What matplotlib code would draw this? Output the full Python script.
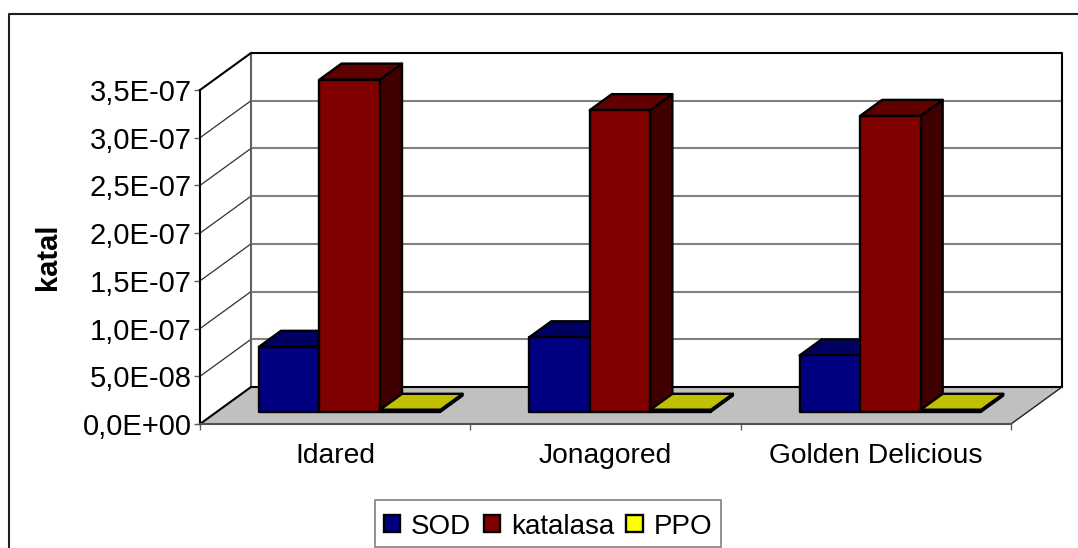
import matplotlib
matplotlib.use('Agg')
import matplotlib.pyplot as plt
from matplotlib.lines import Line2D
from matplotlib.patches import Patch, Polygon, Rectangle

plt.rcParams['font.family'] = ['Liberation Sans', 'DejaVu Sans']

categories = ['Idared', 'Jonagored', 'Golden Delicious']
series_names = ['SOD', 'katalasa', 'PPO']
sod = [6.8e-8, 7.8e-8, 5.9e-8]
katalasa = [3.48e-7, 3.16e-7, 3.10e-7]
ppo = [2e-9, 2e-9, 2e-9]
y_ticks = [0, 0.5e-7, 1e-7, 1.5e-7, 2e-7, 2.5e-7, 3e-7, 3.5e-7]
y_labels = ['0,0E+00', '5,0E-08', '1,0E-07', '1,5E-07', '2,0E-07', '2,5E-07', '3,0E-07', '3,5E-07']

front = ['#000080', '#800000', '#C0C000']
top = ['#000060', '#600000', '#C0C000']
side = ['#000040', '#400000', '#606000']
legend_colors = ['#000080', '#800000', '#FFFF00']

W, H = 1078, 548
fig = plt.figure(figsize=(W / 100, H / 100), dpi=100)
ax = fig.add_axes([200 / W, 1 - 424 / H, 811 / W, 334 / H])
ax.set_xlim(0, 3)
ax.set_ylim(0, 3.5e-7)

# size of the depth direction in data units
px_x = 3 / 811
px_y = 3.5e-7 / 334
dx = 51 * px_x
dy = 37 * px_y


def shift(x, y, d):
    return (x + d * dx, y + d * dy)


# floor and walls
ax.add_patch(Polygon([shift(0, 0, 0), shift(3, 0, 0), shift(3, 0, 1), shift(0, 0, 1)],
                     fc='#C0C0C0', ec='none', clip_on=False, zorder=1))
for v in y_ticks[1:-1]:
    ax.plot([0, dx], [v, v + dy], color='#303030', lw=0.9, clip_on=False, zorder=2)
    ax.plot([dx, 3 + dx], [v + dy, v + dy], color='#808080', lw=1.5, clip_on=False, zorder=2)
ymax = y_ticks[-1]
ax.plot([dx, dx], [dy, ymax + dy], color='#606060', lw=1.5, clip_on=False, zorder=2)
ax.plot([0, dx, 3 + dx, 3 + dx], [ymax, ymax + dy, ymax + dy, dy], color='black', lw=1.5,
        clip_on=False, zorder=2)
ax.plot([0, dx, 3 + dx], [0, dy, dy], color='black', lw=1.5, clip_on=False, zorder=2)
ax.plot([3, 3 + dx], [0, dy], color='#202020', lw=1, clip_on=False, zorder=2)

# bars
bar_w = 60.5 * px_x
gap = 42 * px_x
d0 = 12.3 / 37
d1 = 28.3 / 37
z = 3
for i in range(len(categories)):
    for j, vals in enumerate([sod, katalasa, ppo]):
        v = vals[i]
        x0 = i + gap + j * bar_w
        x1 = x0 + bar_w
        ax.add_patch(Polygon([shift(x1, 0, d0), shift(x1, 0, d1), shift(x1, v, d1), shift(x1, v, d0)],
                             fc=side[j], ec='black', lw=1.7, joinstyle='round', clip_on=False, zorder=z))
        ax.add_patch(Polygon([shift(x0, v, d0), shift(x1, v, d0), shift(x1, v, d1), shift(x0, v, d1)],
                             fc=top[j], ec='black', lw=1.7, joinstyle='round', clip_on=False, zorder=z))
        ax.add_patch(Polygon([shift(x0, 0, d0), shift(x1, 0, d0), shift(x1, v, d0), shift(x0, v, d0)],
                             fc=front[j], ec='black', lw=1.7, joinstyle='round', clip_on=False, zorder=z))
        z += 1

# axes
for s in ['top', 'right']:
    ax.spines[s].set_visible(False)
ax.patch.set_visible(False)
ax.spines['left'].set_linewidth(1.5)
ax.spines['bottom'].set_linewidth(1.5)
ax.spines['bottom'].set_color('#505050')
ax.set_yticks(y_ticks)
ax.set_yticklabels(y_labels, fontsize=21, color='black', va='center_baseline')
ax.tick_params(axis='y', length=4.5, width=1, color='#606060', pad=1.5)
ax.set_xticks(range(len(categories) + 1))
ax.set_xticklabels([])
ax.tick_params(axis='x', which='major', length=4.5, width=1, color='#606060')
ax.set_xticks([i + 0.5 for i in range(len(categories))], minor=True)
ax.set_xticklabels(categories, minor=True, fontsize=20.3)
ax.tick_params(axis='x', which='minor', length=0, pad=14)
fig.text(47.5 / W, 1 - 257 / H, 'katal', rotation=90, fontsize=21, fontweight='bold',
         ha='center', va='center')

# legend, frame drawn by hand so the text sits in the middle of it
fig.add_artist(Rectangle((375 / W, 1 - 547 / H), 346 / W, 47 / H, transform=fig.transFigure,
                         fc='white', ec='#808080', lw=1.2))
handles = [Patch(fc=c, ec='black', lw=1.7) for c in legend_colors]
leg = fig.legend(handles, series_names, ncol=3, loc='center', bbox_to_anchor=(548 / W, 1 - 526.5 / H),
                 fontsize=20, frameon=False,
                 handlelength=0.58, handleheight=0.58, handletextpad=0.4, columnspacing=0.45,
                 borderpad=0.33, borderaxespad=0)

# chart area border
fig.add_artist(Line2D([8.5 / W, 8.5 / W, 1], [0, 1 - 14 / H, 1 - 14 / H], color='#202020', lw=1.5))

fig.savefig('out.png', dpi=100)
